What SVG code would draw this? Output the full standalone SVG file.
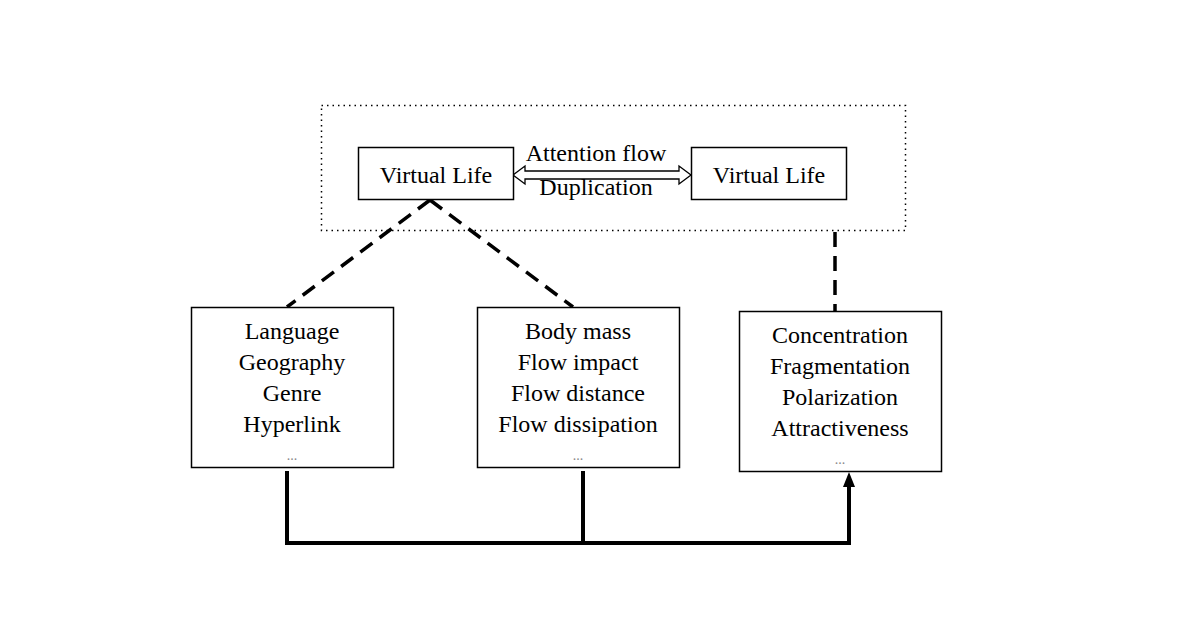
<svg xmlns="http://www.w3.org/2000/svg" width="1181" height="641" viewBox="0 0 1181 641">
<defs>
<style>
.box{fill:#fff;stroke:#000;stroke-width:1.5}
.t{font-family:"Liberation Serif","Times New Roman",serif;font-size:24px;fill:#000;text-anchor:middle}
.dots{font-family:"Liberation Serif",serif;font-size:14px;fill:#888;text-anchor:middle}
.dash{stroke:#000;stroke-width:3.5;stroke-dasharray:15 9;fill:none}
.solid{stroke:#000;stroke-width:4;fill:none}
</style>
<marker id="ah" viewBox="0 0 10 10" refX="9" refY="5" markerWidth="3" markerHeight="3.5" orient="auto" markerUnits="strokeWidth">
<path d="M0,0 L10,5 L0,10 z" fill="#000"/>
</marker>
</defs>
<rect width="1181" height="641" fill="#fff"/>
<g id="group-dotted">
<rect x="321.5" y="105.5" width="584" height="125" fill="none" stroke="#000" stroke-width="1.5" stroke-dasharray="1.5 4"/>
</g>
<g id="connectors">
<path class="dash" d="M430,200 L287,307"/>
<path class="dash" d="M430,200 L573,307"/>
<path class="dash" d="M835,232 L835,311"/>
<path class="solid" d="M287,471 L287,543 L849,543 L849,485"/>
<path class="solid" d="M583,471 L583,543"/>
<path d="M849,472 L843,487 L855,487 z" fill="#000"/>
<polygon points="513,175 525,166 525,171 679,171 679,166 691,175 679,184 679,179 525,179 525,184" fill="#fff" stroke="#000" stroke-width="1.3"/>
<text class="t" x="596" y="161">Attention flow</text>
<text class="t" x="596" y="195">Duplication</text>
</g>
<g id="vl-left">
<rect class="box" x="358.5" y="147.5" width="155" height="52"/>
<text class="t" x="436" y="183">Virtual Life</text>
</g>
<g id="vl-right">
<rect class="box" x="691.5" y="147.5" width="155" height="52"/>
<text class="t" x="769" y="183">Virtual Life</text>
</g>
<g id="box-left">
<rect class="box" x="191.5" y="307.5" width="202" height="160"/>
<text class="t" x="292" y="339">Language</text>
<text class="t" x="292" y="370">Geography</text>
<text class="t" x="292" y="401">Genre</text>
<text class="t" x="292" y="432">Hyperlink</text>
<text class="dots" x="292" y="460">...</text>
</g>
<g id="box-middle">
<rect class="box" x="477.5" y="307.5" width="202" height="160"/>
<text class="t" x="578" y="339">Body mass</text>
<text class="t" x="578" y="370">Flow impact</text>
<text class="t" x="578" y="401">Flow distance</text>
<text class="t" x="578" y="432">Flow dissipation</text>
<text class="dots" x="578" y="460">...</text>
</g>
<g id="box-right">
<rect class="box" x="739.5" y="311.5" width="202" height="160"/>
<text class="t" x="840" y="343">Concentration</text>
<text class="t" x="840" y="374">Fragmentation</text>
<text class="t" x="840" y="405">Polarization</text>
<text class="t" x="840" y="436">Attractiveness</text>
<text class="dots" x="840" y="464">...</text>
</g>
</svg>
